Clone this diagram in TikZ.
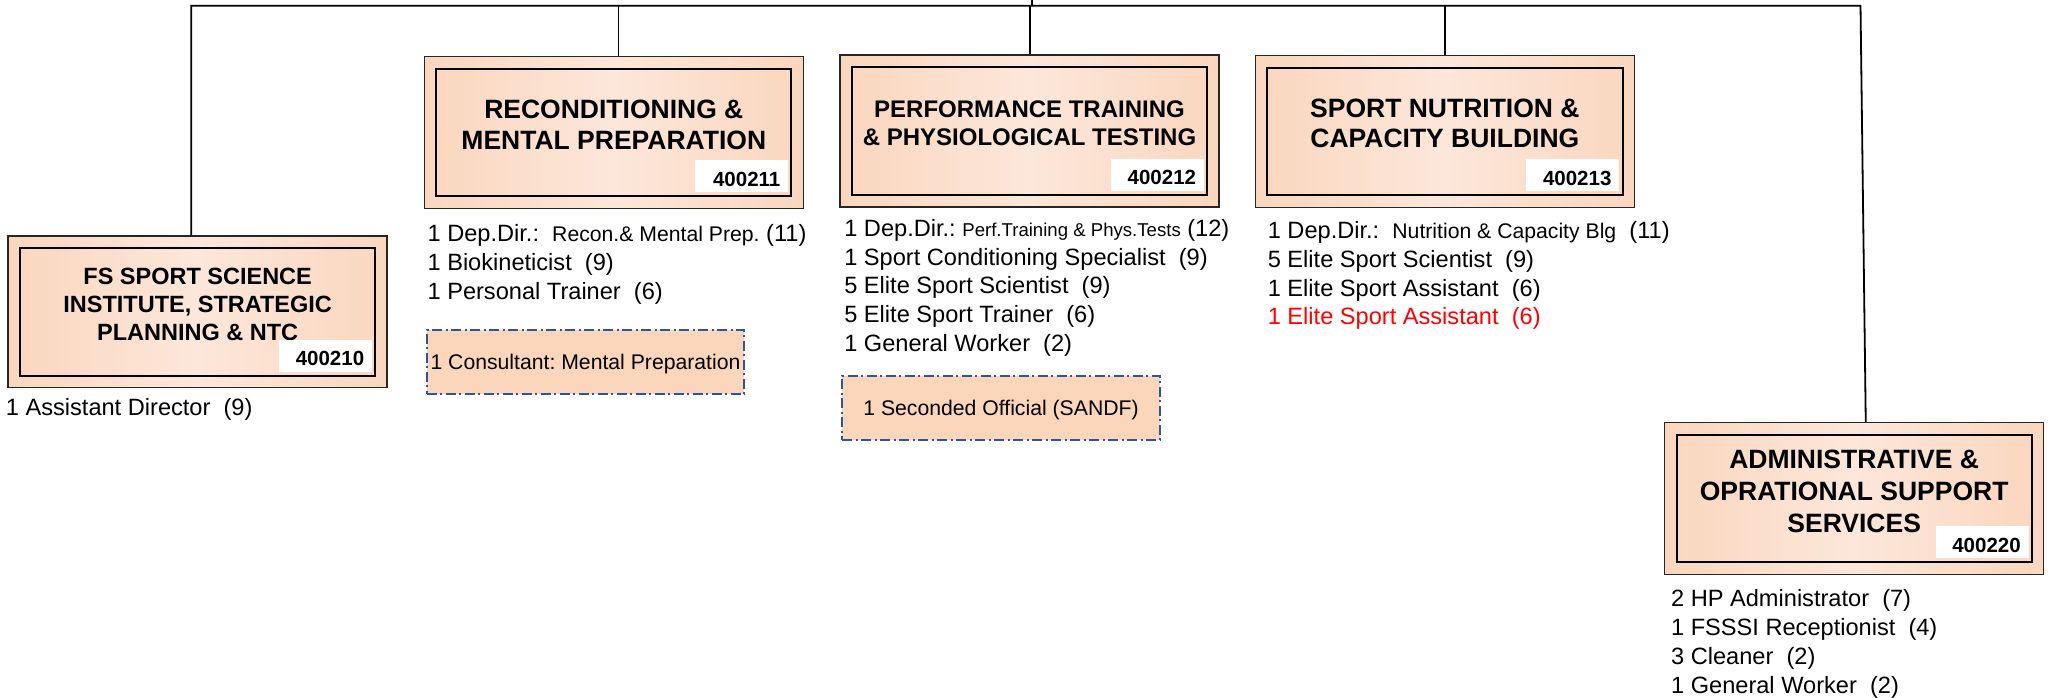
\documentclass[tikz,border=0pt]{standalone}
\usepackage{fontspec}
\setmainfont{Liberation Sans}
\usetikzlibrary{calc}
\definecolor{peachedge}{RGB}{250,214,190}
\definecolor{peachmid}{RGB}{252,231,218}
\definecolor{dashblue}{RGB}{47,85,151}
\definecolor{dashfill}{RGB}{251,214,186}
\newcommand\setfs[2]{\fontsize{#1pt}{#2pt}\selectfont}
\frenchspacing
\begin{document}
\begin{tikzpicture}[x=1pt,y=-1pt,
  conn/.style={draw=black,line width=1.8pt},
  unitbox/.style={draw=black!85,line width=1.5pt,minimum width=379pt,minimum height=151.6pt,inner sep=0pt,
    left color=peachedge,right color=peachedge,middle color=peachmid},
  innerframe/.style={draw=black,line width=2pt},
  titletext/.style={align=center,inner sep=0pt},
  codebox/.style={fill=white,minimum width=93pt,minimum height=31.7pt,inner sep=0pt,text width=77pt,
    align=right,font=\setfs{20.5}{24}\bfseries,text height=19.5pt,text depth=0pt,anchor=south east},
  staff/.style={align=left,inner sep=0pt,anchor=north west,font=\setfs{23.6}{28.8}},
  extra/.style={draw=dashblue,line width=2pt,dash pattern=on 10pt off 3.5pt on 2pt off 3.5pt,
    fill=dashfill,inner sep=0pt,minimum width=317.6pt,minimum height=64.3pt,
    font=\setfs{21.2}{25},text height=15.2pt,text depth=0pt},
]
\useasboundingbox (0,0) rectangle (2049,697);

% boxes (nodes)
\node[unitbox] (b1) at (197.65,311.85) {};
\node[unitbox] (b2) at (613.8,132.5) {};
\node[unitbox] (b3) at (1029.5,131) {};
\node[unitbox] (b4) at (1444.85,131.5) {};
\node[unitbox] (b5) at (1854.15,498.5) {};

% connectors
\coordinate (busL) at (191.3,5.7);
\coordinate (busR) at (1860.5,5.7);
\coordinate (up) at (1032,0);
\draw[conn] (busL |- b1.north) -- (busL) -- (busR) -- ([xshift=11.6pt]b5.north);
\draw[conn] ([xshift=4.7pt]b2.north) -- ([xshift=4.7pt]b2.north |- busL);
\draw[conn] ([xshift=0.5pt]b3.north) -- ([xshift=0.5pt]b3.north |- busL);
\draw[conn] (b4.north) -- (b4.north |- busL);
\draw[conn] (up) -- (up |- busL);

% inner frames
\foreach \b in {b1,b2,b3,b4,b5}{
  \draw[innerframe] ([shift={(12.6,12.6)}]\b.north west) rectangle ([shift={(-12.6,-12.6)}]\b.south east);
}

% titles
\node[titletext,font=\setfs{23.5}{28}\bfseries] (t1) at ([yshift=7.6pt]b1.center)
  {FS SPORT SCIENCE\\INSTITUTE, STRATEGIC\\PLANNING \& NTC};
\node[titletext,font=\setfs{26.5}{31}\bfseries] (t2) at ([yshift=8pt]b2.center)
  {RECONDITIONING \&\\MENTAL PREPARATION};
\node[titletext,font=\setfs{24}{28.7}\bfseries] (t3) at ([yshift=7.7pt]b3.center)
  {PERFORMANCE TRAINING\\\& PHYSIOLOGICAL TESTING};
\node[titletext,font=\setfs{26.5}{30}\bfseries] (t4) at ([yshift=8.2pt]b4.center)
  {SPORT NUTRITION \&\\CAPACITY BUILDING};
\node[titletext,font=\setfs{26.5}{32}\bfseries] (t5) at ([yshift=7.5pt]b5.center)
  {ADMINISTRATIVE \&\\OPRATIONAL SUPPORT\\SERVICES};

% codes
\node[codebox] (k1) at ([shift={(-15.5,-16.7)}]b1.south east) {400210};
\node[codebox] (k2) at ([shift={(-15.5,-16.7)}]b2.south east) {400211};
\node[codebox] (k3) at ([shift={(-15.5,-16.7)}]b3.south east) {400212};
\node[codebox] (k4) at ([shift={(-15.5,-16.7)}]b4.south east) {400213};
\node[codebox] (k5) at ([shift={(-15.5,-16.7)}]b5.south east) {400220};

% staff lists
\node[staff] (s1) at (5.7,397.95) {1 Assistant Director~ (9)};
\node[staff] (s2) at (427.4,224.55)
  {1 Dep.Dir.:~ {\setfs{21.2}{28.8}Recon.\& Mental Prep.} (11)\\
   1 Biokineticist~ (9)\\
   1 Personal Trainer~ (6)};
\node[staff] (s3) at (844.1,218.95)
  {1 Dep.Dir.: {\setfs{18.6}{28.8}Perf.Training \& Phys.Tests} (12)\\
   1 Sport Conditioning Specialist~ (9)\\
   5 Elite Sport Scientist~ (9)\\
   5 Elite Sport Trainer~ (6)\\
   1 General Worker~ (2)};
\node[staff] (s4) at (1267.6,221.25)
  {1 Dep.Dir.:~ {\setfs{21.2}{28.8}Nutrition \& Capacity Blg}~ (11)\\
   5 Elite Sport Scientist~ (9)\\
   1 Elite Sport Assistant~ (6)\\
   {\color{red}1 Elite Sport Assistant~ (6)}};
\node[staff] (s5) at (1670.9,589.55)
  {2 HP Administrator~ (7)\\
   1 FSSSI Receptionist~ (4)\\
   3 Cleaner~ (2)\\
   1 General Worker~ (2)};

% dashed extra posts
\node[extra] (d2) at (585.5,362.15) {1 Consultant: Mental Preparation};
\node[extra] (d3) at (1001,407.85) {1 Seconded Official (SANDF)};
\end{tikzpicture}
\end{document}
